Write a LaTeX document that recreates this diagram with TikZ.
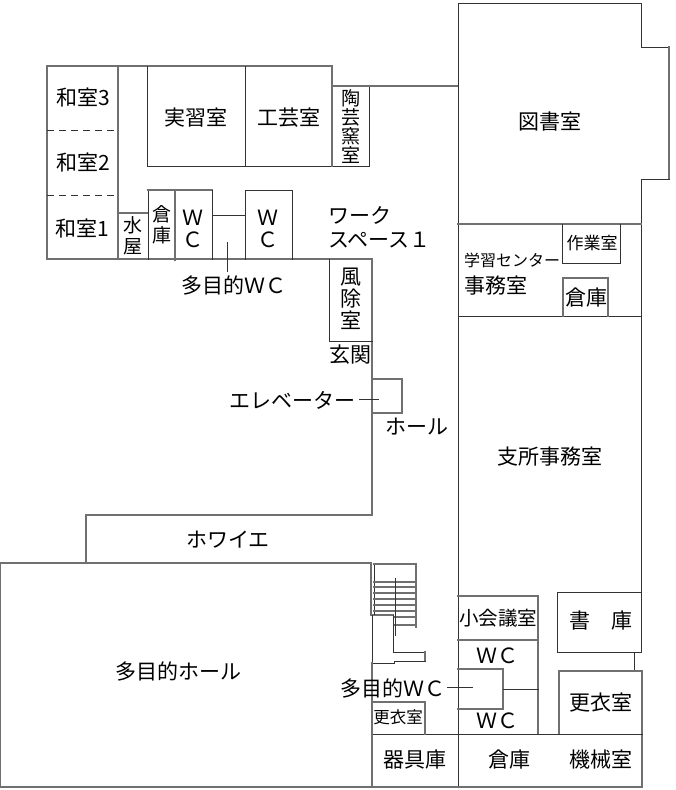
\documentclass[tikz,border=0pt]{standalone}
\usepackage{fontspec}
\setmainfont{Noto Sans CJK JP}
\definecolor{wd}{HTML}{333333}
\definecolor{wg}{HTML}{707070}
\tikzset{
  wall/.style={draw=wd,line width=1pt,line cap=rect},
  gwall/.style={draw=wg,line width=1.2pt,line cap=rect},
  lab/.style={font=\fontsize{21}{24}\selectfont,inner sep=0pt,text=black,align=center},
  vlab/.style={lab,font=\fontsize{19}{19}\selectfont},
  vlabm/.style={lab,font=\fontsize{19}{21}\selectfont},
  vlabb/.style={lab,font=\fontsize{21}{22}\selectfont},
  small/.style={lab,font=\fontsize{16}{18}\selectfont},
  smallb/.style={lab,font=\fontsize{19.5}{20}\selectfont},
  smallc/.style={lab,font=\fontsize{16.5}{18}\selectfont},
  smalld/.style={lab,font=\fontsize{17}{18}\selectfont},
}
\begin{document}
\begin{tikzpicture}[x=1pt,y=-1pt]
\useasboundingbox (0,0) rectangle (676,790);
% west wing
\draw[gwall] (47,66) -- (332,66);
\draw[gwall] (47,66) -- (47,259) -- (372,259) -- (372,515) -- (86,515) -- (86,563);
\draw[gwall] (118,66) -- (118,259);
\draw[wd,line width=1pt,dashed,dash pattern=on 7pt off 5pt] (47,130) -- (118,130) (47,195) -- (118,195);
\draw[wall] (147,66) -- (147,166) -- (369,166) -- (369,86);
\draw[wall] (245,66) -- (245,166);
\draw[gwall] (332,66) -- (332,166);
\draw[gwall] (332,86) -- (458,86);
\draw[gwall] (118,213) -- (148,213);
\draw[wall] (148,259) -- (148,190);
\draw[gwall] (148,190) -- (212,190);
\draw[gwall] (175,190) -- (175,260);
\draw[wall] (212,190) -- (212,259);
\draw[wall] (212,215) -- (245,215);
\draw[wall] (245,259) -- (245,190) -- (292,190) -- (292,259);
\coordinate (wca) at (227,242); \coordinate (wcb) at (227,272);
\draw[wd,line width=.8pt] (wca) -- (wcb);
\draw[wall] (329,259) -- (329,341) -- (372,341);
\draw[gwall] (372,379) -- (402,379) -- (402,413) -- (372,413);
\coordinate (eva) at (359,399); \coordinate (evb) at (379,399);
\draw[wd,line width=.8pt] (eva) -- (evb);
% main block
\draw[wall] (458,3) -- (458,787);
\draw[wall] (458,3) -- (641,3) -- (641,47) -- (669,47);
\draw[gwall] (669,47) -- (669,179);
\draw[wall] (669,179) -- (641,179) -- (641,592);
\draw[gwall] (458,224) -- (641,224);
\draw[wall] (458,316) -- (641,316);
\draw[wall] (562,224) -- (562,263) -- (620,263) -- (620,224);
\draw[gwall] (563,316) -- (563,278) -- (608,278) -- (608,316);
\draw[wall] (641,592) -- (557,592) -- (557,652) -- (641,652) -- (641,592);
\draw[wall] (634,652) -- (634,671);
\draw[gwall] (559,734) -- (559,671) -- (642,671) -- (642,787);
\draw[gwall] (458,596) -- (538,596) -- (538,734);
\draw[gwall] (458,640) -- (538,640);
\draw[gwall] (458,669) -- (503,669) -- (503,709) -- (458,709);
\draw[wall] (503,689) -- (538,689);
\coordinate (wdl) at (447,687); \coordinate (wdr) at (473,687);
\draw[wd,line width=.8pt] (wdl) -- (wdr);
\draw[wall] (372,734) -- (642,734);
% hall
\draw[gwall] (0,563) -- (371,563) -- (371,615);
\draw[gwall] (0,563) -- (0,787) -- (642,787);
\draw[gwall] (371,615) -- (393,615);
\draw[wall] (393,615) -- (393,652) -- (425,652);
\draw[gwall] (425,652) -- (425,661);
\draw[wall] (372,615) -- (372,663);
\draw[wall] (425,661) -- (394,661) -- (394,663) -- (372,663);
\draw[gwall] (372,663) -- (372,787);
\draw[gwall] (372,702) -- (425,702) -- (425,734);
% stairs
\draw[wd,line width=1pt] (374,564) -- (374,615);
\draw[gwall] (374,564) -- (416,564) -- (416,627);
\foreach \y in {582,587,593,599,605,611}{\draw[gwall] (374,\y) -- (416,\y);}
\foreach \y in {617,625}{\draw[gwall] (395,\y) -- (416,\y);}
\draw[wd,line width=1pt] (395,578) -- (395,636);
% labels
\node[lab] (r3) at (83,97) {和室3};
\node[lab] (r2) at (83,162) {和室2};
\node[lab] (r1) at (82,228) {和室1};
\node[lab] (jisshu) at (196,118) {実習室};
\node[lab] (kogei) at (289,118) {工芸室};
\node[vlab] (toyo) at (351,127) {陶\\芸\\窯\\室};
\node[vlabm] (mizu) at (133,236) {水\\屋};
\node[vlabm] (sk1) at (162,225) {倉\\庫};
\node[vlabb] (wc1) at (193,229) {Ｗ\\Ｃ};
\node[vlabb] (wc2) at (268,229) {Ｗ\\Ｃ};
\node[lab] (mwc1) at (234,285) {多目的ＷＣ};
\node[lab,anchor=west] (work1) at (328,215) {ワーク};
\node[lab,anchor=west] (work2) at (328,240) {スペース１};
\node[vlabb] (fu) at (351,299) {風\\除\\室};
\node[lab] (gen) at (350,355) {玄関};
\node[lab] (ev) at (292,400) {エレベーター};
\node[lab] (hl) at (417,427) {ホール};
\node[lab] (foy) at (228,540) {ホワイエ};
\node[lab] (mh) at (178,671) {多目的ホール};
\node[lab] (lib) at (550,122) {図書室};
\node[small] (gc) at (512,260) {学習センター};
\node[lab] (jm) at (496,286) {事務室};
\node[smalld] (sg) at (592,243) {作業室};
\node[lab] (sk2) at (586,298) {倉庫};
\node[lab] (shi) at (550,457) {支所事務室};
\node[smallb] (sho) at (498,618) {小会議室};
\node[lab] (wc3) at (497,656) {ＷＣ};
\node[lab] (wc4) at (497,721) {ＷＣ};
\node[lab] (sho2) at (601,621) {書\hspace{1em}庫};
\node[lab] (ko1) at (601,703) {更衣室};
\node[smallc] (ko2) at (398,717) {更衣室};
\node[lab] (mwc2) at (393,688) {多目的ＷＣ};
\node[lab] (ki) at (415,760) {器具庫};
\node[lab] (so) at (509,760) {倉庫};
\node[lab] (ka) at (601,760) {機械室};
\end{tikzpicture}
\end{document}
